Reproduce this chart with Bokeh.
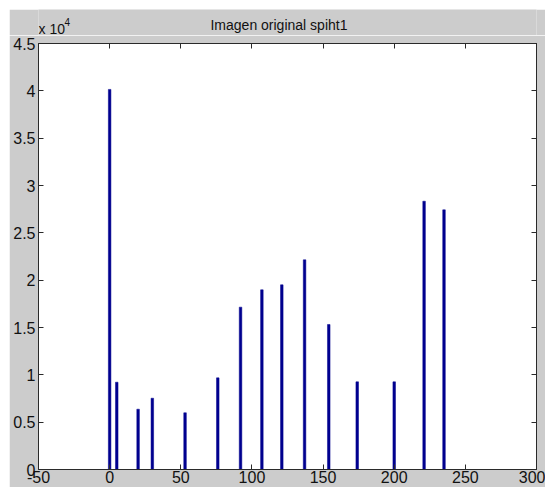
from bokeh.plotting import figure
from bokeh.layouts import column, row
from bokeh.models import Range1d, FixedTicker, LinearAxis, Spacer
from bokeh.core.properties import value
from bokeh.embed import file_html
from bokeh.resources import INLINE

# ---- data ----
gray_levels = [0, 5, 20, 30, 53, 76, 92, 107, 121, 137, 154, 174, 200, 221, 235]
pixel_counts = [40150, 9220, 6370, 7530, 5990, 9680, 17150, 18980, 19510,
                22150, 15320, 9260, 9260, 28340, 27430]
x_ticks = [-50, 0, 50, 100, 150, 200, 250, 300]
x_tick_labels = ["-50", "0", "50", "100", "150", "200", "250", "300"]
y_ticks = [0, 5000, 10000, 15000, 20000, 25000, 30000, 35000, 40000, 45000]
y_tick_labels = ["0", "0.5", "1", "1.5", "2", "2.5", "3", "3.5", "4", "4.5"]
title_text = "Imagen original spiht1"
exp_base = "x 10"
exp_power = "4"

FONT = "Liberation Sans"
FS = "16px"
DARK = "#2a2a2a"
TXT = "#111111"
GREY = "#cccccc"
W = 536
HEAD_H = 26
MAIN_H = 452
BL, BR = 29, 9

# ---- strip above the axes: title and exponent ----
# its frame is aligned with the main frame, so it shares the x range
head = figure(width=W, height=HEAD_H, output_backend="svg", toolbar_location=None,
              x_range=Range1d(-50, 300), y_range=Range1d(0, HEAD_H),
              x_axis_type=None, y_axis_type=None,
              min_border_left=BL, min_border_right=BR,
              min_border_top=0, min_border_bottom=0)
head.grid.visible = False
head.outline_line_color = None
head.background_fill_color = GREY
head.border_fill_color = GREY
head.text(x=[119], y=[11], text=[title_text], text_align="center",
          text_baseline="alphabetic", text_font=value(FONT),
          text_font_size="14px", text_color=TXT)
head.text(x=[-50], y=[7], text=[exp_base], text_align="left",
          text_baseline="alphabetic", text_font=value(FONT),
          text_font_size="14px", text_color=TXT)
head.text(x=[-50], y=[14], x_offset=26, text=[exp_power], text_align="left",
          text_baseline="alphabetic", text_font=value(FONT),
          text_font_size="10px", text_color=TXT)

# ---- main axes ----
p = figure(width=W, height=MAIN_H, output_backend="svg", toolbar_location=None,
           x_range=Range1d(-50, 300), y_range=Range1d(0, 45000),
           min_border_left=BL, min_border_right=BR, min_border_top=8,
           min_border_bottom=18)
p.border_fill_color = GREY
p.background_fill_color = "white"
p.outline_line_color = DARK
p.outline_line_width = 1
p.xgrid.visible = False
p.ygrid.visible = False

p.vbar(x=gray_levels, top=pixel_counts, width=1.8, bottom=0,
       fill_color="#00008F", line_color="#00008F", line_width=0.5)

def style_axis(ax, ticks, labels, show_labels, standoff):
    ax.ticker = FixedTicker(ticks=ticks)
    ax.major_tick_in = 5
    ax.major_tick_out = 0
    ax.minor_tick_line_color = None
    ax.axis_line_color = DARK
    ax.major_tick_line_color = DARK
    ax.major_label_standoff = standoff
    if show_labels:
        ax.major_label_overrides = {t: l for t, l in zip(ticks, labels)}
        ax.major_label_text_font = FONT
        ax.major_label_text_font_size = FS
        ax.major_label_text_color = TXT
    else:
        ax.major_label_overrides = {t: "" for t in ticks}
        ax.major_label_text_font_size = "0px"

style_axis(p.xaxis[0], x_ticks, x_tick_labels, True, 1)
style_axis(p.yaxis[0], y_ticks, y_tick_labels, True, 3)

top_ax = LinearAxis()
style_axis(top_ax, x_ticks, x_tick_labels, False, 0)
p.add_layout(top_ax, "above")
right_ax = LinearAxis()
style_axis(right_ax, y_ticks, y_tick_labels, False, 0)
p.add_layout(right_ax, "right")

# white 9px strip on the top and left, as in the reference window capture
layout = column(Spacer(width=545, height=9),
                row(Spacer(width=9, height=HEAD_H + MAIN_H),
                    column(head, p, spacing=0), spacing=0),
                spacing=0)
open("out.html", "w").write(file_html(layout, INLINE))
